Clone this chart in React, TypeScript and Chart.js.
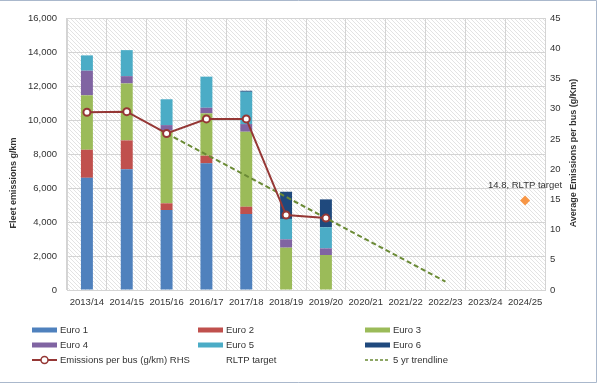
import React, { useEffect, useRef } from "react";
import { Chart, registerables } from "chart.js";

Chart.register(...registerables);

const categories = ["2013/14","2014/15","2015/16","2016/17","2017/18","2018/19","2019/20","2020/21","2021/22","2022/23","2023/24","2024/25"];
const euro1 = [6600, 7100, 4700, 7450, 4470, 0, 0, null, null, null, null, null];
const euro2 = [1650, 1700, 400, 450, 430, 0, 0, null, null, null, null, null];
const euro3 = [3200, 3350, 4270, 2490, 4410, 2490, 2060, null, null, null, null, null];
const euro4 = [1450, 430, 330, 330, 450, 490, 390, null, null, null, null, null];
const euro5 = [900, 1530, 1520, 1830, 1900, 1200, 1240, null, null, null, null, null];
const euro6 = [0, 0, 0, 0, 60, 1600, 1640, null, null, null, null, null];
const emissionsPerBus = [29.4, 29.5, 25.9, 28.3, 28.3, 12.4, 11.9, null, null, null, null, null];
const rltpTarget = [null, null, null, null, null, null, null, null, null, null, null, 14.8];
const trendline = [null, null, 25.9, null, null, null, null, null, null, 1.4, null, null];
const leftTicks = { min: 0, max: 16000, step: 2000 };
const rightTicks = { min: 0, max: 45, step: 5 };

const C = {
  e1: "#4f81bd", e2: "#c0504d", e3: "#9bbb59", e4: "#8064a2", e5: "#4bacc6", e6: "#1f497d",
  line: "#953735", target: "#f79646", trend: "#6a8a35", grid: "#d4d4d4", text: "#333333",
};
const FONT = "'Liberation Sans', Arial, sans-serif";

export default function App() {
  const ref = useRef<HTMLCanvasElement | null>(null);
  useEffect(() => {
    document.body.style.margin = "0";
    const canvas = ref.current!;
    const pc = document.createElement("canvas");
    pc.width = 4; pc.height = 4;
    const px = pc.getContext("2d")!;
    px.fillStyle = "#ffffff"; px.fillRect(0, 0, 4, 4);
    px.strokeStyle = "#e3e3e3"; px.lineWidth = 1;
    px.beginPath();
    px.moveTo(-1, -1); px.lineTo(5, 5);
    px.moveTo(-1, 3); px.lineTo(1, 5);
    px.moveTo(3, -1); px.lineTo(5, 1);
    px.stroke();

    const bgPlugin = {
      id: "bg",
      beforeDraw(chart: any) {
        const { ctx, chartArea: a, width, height } = chart;
        ctx.save();
        ctx.fillStyle = "#ffffff"; ctx.fillRect(0, 0, width, height);
        const pat = ctx.createPattern(pc, "repeat");
        ctx.fillStyle = pat; ctx.fillRect(a.left, a.top, a.right - a.left, a.bottom - a.top);
        ctx.restore();
      },
      afterDraw(chart: any) {
        const { ctx } = chart;
        ctx.save();
        ctx.strokeStyle = "#aab8cc"; ctx.lineWidth = 1;
        ctx.beginPath();
        ctx.moveTo(0, 0.5); ctx.lineTo(596.5, 0.5); ctx.lineTo(596.5, 382.5); ctx.lineTo(0, 382.5);
        ctx.stroke();
        ctx.fillStyle = C.text;
        ctx.font = `bold 9px ${FONT}`;
        ctx.textAlign = "center"; ctx.textBaseline = "middle";
        ctx.save(); ctx.translate(14, 183); ctx.rotate(-Math.PI / 2); ctx.fillText("Fleet emissions g/km", 0, 0); ctx.restore();
        ctx.save(); ctx.translate(574, 153); ctx.rotate(-Math.PI / 2); ctx.fillText("Average Emissions per bus (g/Km)", 0, 0); ctx.restore();
        const meta = chart.getDatasetMeta(7);
        const pt = meta.data[11];
        ctx.font = `9.5px ${FONT}`;
        ctx.fillText("14.8, RLTP target", pt.x, pt.y - 15);
        const cols = [32, 198, 365];
        const rows = [330, 345, 360];
        const items: any[] = [
          [0, 0, "rect", C.e1, "Euro 1"], [1, 0, "rect", C.e2, "Euro 2"], [2, 0, "rect", C.e3, "Euro 3"],
          [0, 1, "rect", C.e4, "Euro 4"], [1, 1, "rect", C.e5, "Euro 5"], [2, 1, "rect", C.e6, "Euro 6"],
          [0, 2, "line", C.line, "Emissions per bus (g/km) RHS"], [1, 2, "none", C.target, "RLTP target"], [2, 2, "dash", C.trend, "5 yr trendline"],
        ];
        ctx.textAlign = "left";
        ctx.font = `9.5px ${FONT}`;
        for (const [c, r, kind, col, label] of items) {
          const x = cols[c], y = rows[r];
          if (kind === "rect") { ctx.fillStyle = col; ctx.fillRect(x, y - 2.5, 25, 5); }
          else if (kind === "line") {
            ctx.strokeStyle = col; ctx.lineWidth = 2; ctx.setLineDash([]);
            ctx.beginPath(); ctx.moveTo(x, y); ctx.lineTo(x + 25, y); ctx.stroke();
            ctx.fillStyle = "#fff"; ctx.lineWidth = 1.5;
            ctx.beginPath(); ctx.arc(x + 12.5, y, 3.5, 0, Math.PI * 2); ctx.fill(); ctx.stroke();
          } else if (kind === "dash") {
            ctx.strokeStyle = col; ctx.lineWidth = 1.5; ctx.setLineDash([3, 2]);
            ctx.beginPath(); ctx.moveTo(x, y); ctx.lineTo(x + 25, y); ctx.stroke(); ctx.setLineDash([]);
          }
          ctx.fillStyle = C.text;
          ctx.fillText(label, x + 28, y);
        }
        ctx.restore();
      },
    };

    const bar = (label: string, data: any[], color: string) => ({
      type: "bar" as const, label, data, backgroundColor: color, stack: "s", yAxisID: "y", order: 5,
      barPercentage: 0.3, categoryPercentage: 1,
    });

    const chart = new Chart(canvas, {
      type: "bar",
      data: {
        labels: categories,
        datasets: [
          bar("Euro 1", euro1, C.e1), bar("Euro 2", euro2, C.e2), bar("Euro 3", euro3, C.e3),
          bar("Euro 4", euro4, C.e4), bar("Euro 5", euro5, C.e5), bar("Euro 6", euro6, C.e6),
          {
            type: "line", label: "Emissions per bus (g/km) RHS", data: emissionsPerBus, yAxisID: "y1", order: 0,
            borderColor: C.line, borderWidth: 2, pointRadius: 3.5, pointBorderWidth: 2,
            pointBackgroundColor: "#ffffff", pointBorderColor: C.line, tension: 0, spanGaps: false,
          } as any,
          {
            type: "line", label: "RLTP target", data: rltpTarget, yAxisID: "y1", order: 0,
            showLine: false, pointStyle: "rectRot", pointRadius: 5, pointBackgroundColor: C.target,
            pointBorderColor: C.target, borderWidth: 0,
          } as any,
          {
            type: "line", label: "5 yr trendline", data: trendline, yAxisID: "y1", order: 1,
            borderColor: C.trend, borderWidth: 2, borderDash: [5, 3], pointRadius: 0, spanGaps: true,
          } as any,
        ],
      },
      options: {
        animation: false,
        responsive: false,
        layout: { padding: { top: 18, bottom: 75, left: 0, right: 0 } },
        plugins: { legend: { display: false }, tooltip: { enabled: false } },
        scales: {
          x: {
            stacked: true,
            grid: { color: C.grid, drawTicks: false, offset: true },
            border: { color: C.grid },
            ticks: { color: C.text, font: { family: FONT, size: 9.5 }, padding: 7, maxRotation: 0, autoSkip: false },
            afterFit: (s: any) => { s.height = 20; },
          },
          y: {
            stacked: true, position: "left", min: leftTicks.min, max: leftTicks.max,
            grid: { color: C.grid, drawTicks: false },
            border: { color: C.grid },
            ticks: {
              stepSize: leftTicks.step, color: C.text, font: { family: FONT, size: 9.5 }, padding: 10,
              callback: (v: any) => Number(v).toLocaleString("en-US"),
            },
            afterFit: (s: any) => { s.width = 67; },
          },
          y1: {
            position: "right", min: rightTicks.min, max: rightTicks.max,
            grid: { drawOnChartArea: false, drawTicks: false },
            border: { display: false },
            ticks: { stepSize: rightTicks.step, color: C.text, font: { family: FONT, size: 9.5 }, padding: 5 },
            afterFit: (s: any) => { s.width = 55; },
          },
        },
      } as any,
      plugins: [bgPlugin],
    });
    return () => chart.destroy();
  }, []);
  return (
    <div style={{ width: 600, height: 385 }}>
      <canvas ref={ref} width={600} height={385} style={{ display: "block" }} />
    </div>
  );
}
